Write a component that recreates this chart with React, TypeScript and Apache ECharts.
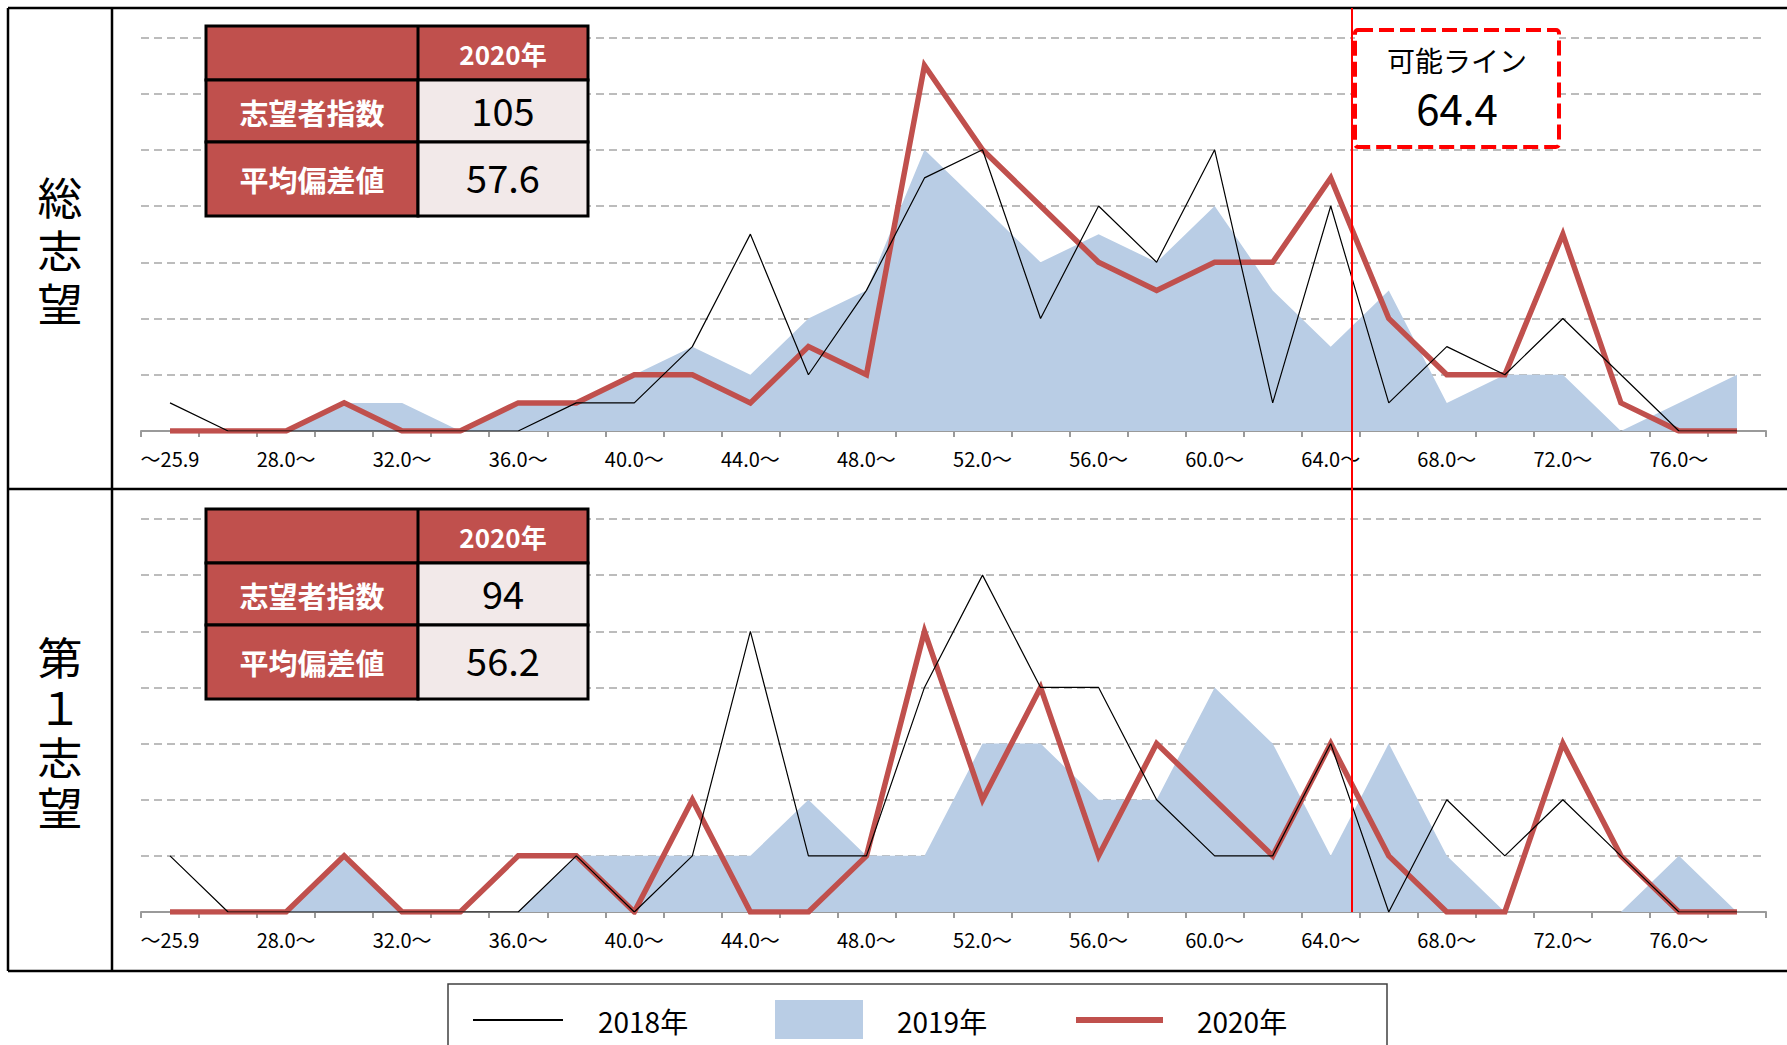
import React, { useEffect, useRef } from "react";
import * as echarts from "echarts";

const categories = [
  "〜25.9", "26.0〜", "28.0〜", "30.0〜", "32.0〜", "34.0〜", "36.0〜", "38.0〜",
  "40.0〜", "42.0〜", "44.0〜", "46.0〜", "48.0〜", "50.0〜", "52.0〜", "54.0〜",
  "56.0〜", "58.0〜", "60.0〜", "62.0〜", "64.0〜", "66.0〜", "68.0〜", "70.0〜",
  "72.0〜", "74.0〜", "76.0〜", "78.0〜",
];

// 総志望
const total2018 = [1, 0, 0, 0, 0, 0, 0, 1, 1, 3, 7, 2, 5, 9, 10, 4, 8, 6, 10, 1, 8, 1, 3, 2, 4, 2, 0, 0];
const total2019 = [0, 0, 0, 1, 1, 0, 1, 1, 2, 3, 2, 4, 5, 10, 8, 6, 7, 6, 8, 5, 3, 5, 1, 2, 2, 0, 1, 2];
const total2020 = [0, 0, 0, 1, 0, 0, 1, 1, 2, 2, 1, 3, 2, 13, 10, 8, 6, 5, 6, 6, 9, 4, 2, 2, 7, 1, 0, 0];

// 第1志望
const first2018 = [2, 0, 0, 0, 0, 0, 0, 2, 0, 2, 10, 2, 2, 8, 12, 8, 8, 4, 2, 2, 6, 0, 4, 2, 4, 2, 0, 0];
const first2019 = [0, 0, 0, 2, 0, 0, 0, 2, 2, 2, 2, 4, 2, 2, 6, 6, 4, 4, 8, 6, 2, 6, 2, 0, 0, 0, 2, 0];
const first2020 = [0, 0, 0, 2, 0, 0, 2, 2, 0, 4, 0, 0, 2, 10, 4, 8, 2, 6, 4, 2, 6, 2, 0, 0, 6, 2, 0, 0];

const panelTitles = [["総", "志", "望"], ["第", "１", "志", "望"]];
const tableHeader = "2020年";
const rowLabels = ["志望者指数", "平均偏差値"];
const totalStats = ["105", "57.6"];
const firstStats = ["94", "56.2"];
const lineLabel = "可能ライン";
const lineValue = "64.4";
const seriesNames = ["2018年", "2019年", "2020年"];

const FONT = '"Noto Sans CJK JP", "Noto Sans", sans-serif';
const RED = "#C0504D";
const BLUE = "#B9CDE5";

function table(top: number, stats: string[]) {
  const L = 206, M = 418, R = 588;
  const r1 = top + 54, r2 = top + 116, b = top + 190;
  const els: any[] = [
    { type: "rect", shape: { x: L, y: top, width: R - L, height: r1 - top }, style: { fill: RED, stroke: "#000", lineWidth: 3 } },
    { type: "rect", shape: { x: L, y: r1, width: M - L, height: r2 - r1 }, style: { fill: RED, stroke: "#000", lineWidth: 3 } },
    { type: "rect", shape: { x: M, y: r1, width: R - M, height: r2 - r1 }, style: { fill: "#F2E9E9", stroke: "#000", lineWidth: 3 } },
    { type: "rect", shape: { x: L, y: r2, width: M - L, height: b - r2 }, style: { fill: RED, stroke: "#000", lineWidth: 3 } },
    { type: "rect", shape: { x: M, y: r2, width: R - M, height: b - r2 }, style: { fill: "#F2E9E9", stroke: "#000", lineWidth: 3 } },
    { type: "line", shape: { x1: M, y1: top, x2: M, y2: r1 }, style: { stroke: "#000", lineWidth: 3 } },
    { type: "text", x: (M + R) / 2, y: top + 27, style: { text: tableHeader, fill: "#fff", fontSize: 26, fontWeight: "bold", fontFamily: FONT, align: "center", verticalAlign: "middle" } },
    { type: "text", x: (L + M) / 2, y: top + 86, style: { text: rowLabels[0], fill: "#fff", fontSize: 29, fontWeight: "bold", fontFamily: FONT, align: "center", verticalAlign: "middle" } },
    { type: "text", x: (M + R) / 2, y: top + 83, style: { text: stats[0], fill: "#000", fontSize: 38, fontFamily: FONT, align: "center", verticalAlign: "middle" } },
    { type: "text", x: (L + M) / 2, y: top + 153, style: { text: rowLabels[1], fill: "#fff", fontSize: 29, fontWeight: "bold", fontFamily: FONT, align: "center", verticalAlign: "middle" } },
    { type: "text", x: (M + R) / 2, y: top + 150, style: { text: stats[1], fill: "#000", fontSize: 38, fontFamily: FONT, align: "center", verticalAlign: "middle" } },
  ];
  return els;
}

export default function App() {
  const ref = useRef<HTMLDivElement>(null);

  useEffect(() => {
    if (!ref.current) return;
    const chart = echarts.init(ref.current, null, { renderer: "svg" });

    const grids = [
      { left: 141, top: 37.3, width: 1625, height: 393.7 },
      { left: 141, top: 519, width: 1625, height: 393 },
    ];

    const xAxes = [0, 1].map((i) => ({
      type: "category",
      gridIndex: i,
      data: categories,
      boundaryGap: true,
      axisLine: { lineStyle: { color: "#9A9A9A", width: 2 } },
      axisTick: { show: true, interval: 0, length: 6, lineStyle: { color: "#9A9A9A", width: 2 } },
      axisLabel: { interval: 1, color: "#000", fontSize: 20, fontFamily: FONT, margin: 17 },
    }));

    const yAxes = [0, 1].map((i) => ({
      type: "value",
      gridIndex: i,
      min: 0,
      max: 14,
      interval: 2,
      axisLabel: { show: false },
      axisLine: { show: false },
      axisTick: { show: false },
      splitLine: { lineStyle: { color: "#A6A6A6", type: [8, 5], width: 1.5 } },
    }));

    const data = [
      [total2018, total2019, total2020],
      [first2018, first2019, first2020],
    ];

    const series: any[] = [];
    [0, 1].forEach((i) => {
      series.push({
        name: seriesNames[1], type: "line", xAxisIndex: i, yAxisIndex: i, data: data[i][1],
        symbol: "none", lineStyle: { width: 0, color: BLUE }, areaStyle: { color: BLUE, opacity: 1 }, z: 1,
      });
      series.push({
        name: seriesNames[2], type: "line", xAxisIndex: i, yAxisIndex: i, data: data[i][2],
        symbol: "none", lineStyle: { width: 5.5, color: RED, join: "miter" }, z: 2,
      });
      series.push({
        name: seriesNames[0], type: "line", xAxisIndex: i, yAxisIndex: i, data: data[i][0],
        symbol: "none", lineStyle: { width: 1.2, color: "#000" }, z: 3,
      });
    });

    // vertical panel titles: one text per character, drawn small and scaled up
    const titleTexts: any[] = [];
    const titleCenters = [[195, 248, 301], [655, 705, 755, 805]];
    panelTitles.forEach((chars, p) => {
      chars.forEach((ch, k) => {
        titleTexts.push({
          type: "text", x: 60, y: titleCenters[p][k], scaleX: 1.36, scaleY: 1.36,
          style: { text: ch, fill: "#000", fontSize: 33, fontFamily: FONT, align: "center", verticalAlign: "middle" },
        });
      });
    });

    const frame = { stroke: "#000", lineWidth: 2.5 };
    const graphics: any[] = [
      // frame
      { type: "line", shape: { x1: 8, y1: 8, x2: 1787, y2: 8 }, style: frame },
      { type: "line", shape: { x1: 8, y1: 8, x2: 8, y2: 971 }, style: frame },
      { type: "line", shape: { x1: 112, y1: 8, x2: 112, y2: 971 }, style: frame },
      { type: "line", shape: { x1: 8, y1: 489, x2: 1787, y2: 489 }, style: frame },
      { type: "line", shape: { x1: 8, y1: 971, x2: 1787, y2: 971 }, style: frame },
      // panel titles
      ...titleTexts,
      // tables
      ...table(26, totalStats),
      ...table(509, firstStats),
      // possible line
      { type: "line", shape: { x1: 1352, y1: 8, x2: 1352, y2: 912 }, style: { stroke: "#FF0000", lineWidth: 2 } },
      { type: "rect", shape: { x: 1355, y: 30, width: 204, height: 117, r: 3 }, style: { fill: "#fff", stroke: "#FF0000", lineWidth: 4, lineDash: [15, 6] } },
      { type: "text", x: 1457, y: 60, style: { text: lineLabel, fill: "#000", fontSize: 28, fontFamily: FONT, align: "center", verticalAlign: "middle" } },
      { type: "text", x: 1457, y: 106, style: { text: lineValue, fill: "#000", fontSize: 42, fontFamily: FONT, align: "center", verticalAlign: "middle" } },
      // legend
      { type: "rect", shape: { x: 448, y: 984, width: 939, height: 90 }, style: { fill: "none", stroke: "#404040", lineWidth: 1.5 } },
      { type: "line", shape: { x1: 473, y1: 1020, x2: 563, y2: 1020 }, style: { stroke: "#000", lineWidth: 2 } },
      { type: "text", x: 598, y: 1021, style: { text: seriesNames[0], fill: "#000", fontSize: 28, fontFamily: FONT, align: "left", verticalAlign: "middle" } },
      { type: "rect", shape: { x: 775, y: 1000, width: 88, height: 39 }, style: { fill: BLUE } },
      { type: "text", x: 897, y: 1021, style: { text: seriesNames[1], fill: "#000", fontSize: 28, fontFamily: FONT, align: "left", verticalAlign: "middle" } },
      { type: "line", shape: { x1: 1076, y1: 1020, x2: 1163, y2: 1020 }, style: { stroke: RED, lineWidth: 6 } },
      { type: "text", x: 1197, y: 1021, style: { text: seriesNames[2], fill: "#000", fontSize: 28, fontFamily: FONT, align: "left", verticalAlign: "middle" } },
    ].map((g) => ({ ...g, z: 100 }));

    chart.setOption({
      animation: false,
      backgroundColor: "#fff",
      textStyle: { fontFamily: FONT },
      grid: grids.map((g) => ({ ...g, outerBoundsMode: "none" })),
      xAxis: xAxes,
      yAxis: yAxes,
      series,
      graphic: graphics,
    });

    return () => chart.dispose();
  }, []);

  return (
    <div
      ref={ref}
      style={{ position: "fixed", left: 0, top: 0, width: 1787, height: 1045, background: "#fff" }}
    />
  );
}
